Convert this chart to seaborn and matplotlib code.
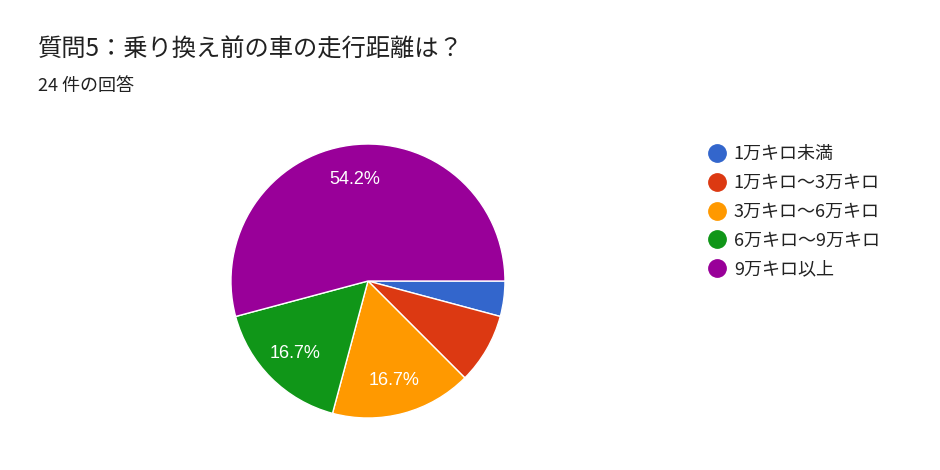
import matplotlib
matplotlib.use("Agg")
import matplotlib.pyplot as plt
from matplotlib.lines import Line2D
import seaborn as sns

categories = ["1万キロ未満", "1万キロ〜3万キロ", "3万キロ〜6万キロ", "6万キロ〜9万キロ", "9万キロ以上"]
counts = [1, 2, 4, 4, 13]
colors = ["#3366cc", "#dc3912", "#ff9900", "#109618", "#990099"]
title = "質問5：乗り換え前の車の走行距離は？"
subtitle = "24 件の回答"

sns.set_theme(style="white")
plt.rcParams["font.family"] = ["Noto Sans CJK JP", "DejaVu Sans"]
palette = sns.color_palette(colors)

fig = plt.figure(figsize=(9.4, 4.7), dpi=100)
fig.patch.set_facecolor("white")
ax = fig.add_axes([0.2457, 0.1106, 0.2915, 0.583])

def fmt(p):
    return f"{p:.1f}%" if p >= 10 else ""

wedges, texts, autotexts = ax.pie(
    counts, colors=palette, startangle=0, counterclock=False,
    autopct=fmt, pctdistance=0.75,
    wedgeprops=dict(edgecolor="white", linewidth=1),
    textprops=dict(color="white", fontsize=13, family=["Liberation Sans", "Noto Sans CJK JP"]),
)
ax.set_xlim(-1, 1)
ax.set_ylim(-1, 1)
ax.set_aspect("equal")

fig.text(38 / 940, 1 - 50 / 470, title, fontsize=17.5, color="#212121", va="center", ha="left")
fig.text(38 / 940, 1 - 86 / 470, subtitle, fontsize=13, color="#212121", va="center", ha="left")

handles = [Line2D([0], [0], marker="o", linestyle="none", markersize=12.5,
                  markerfacecolor=c, markeredgecolor=c) for c in palette]
fig.legend(handles, categories, loc="upper left", bbox_to_anchor=(701 / 940, 1 - 138 / 470),
           frameon=False, fontsize=13, labelspacing=0.6, handletextpad=0.42,
           handlelength=1.0, borderaxespad=0, labelcolor="#222222")

fig.savefig("out.png", dpi=100, facecolor="white")
